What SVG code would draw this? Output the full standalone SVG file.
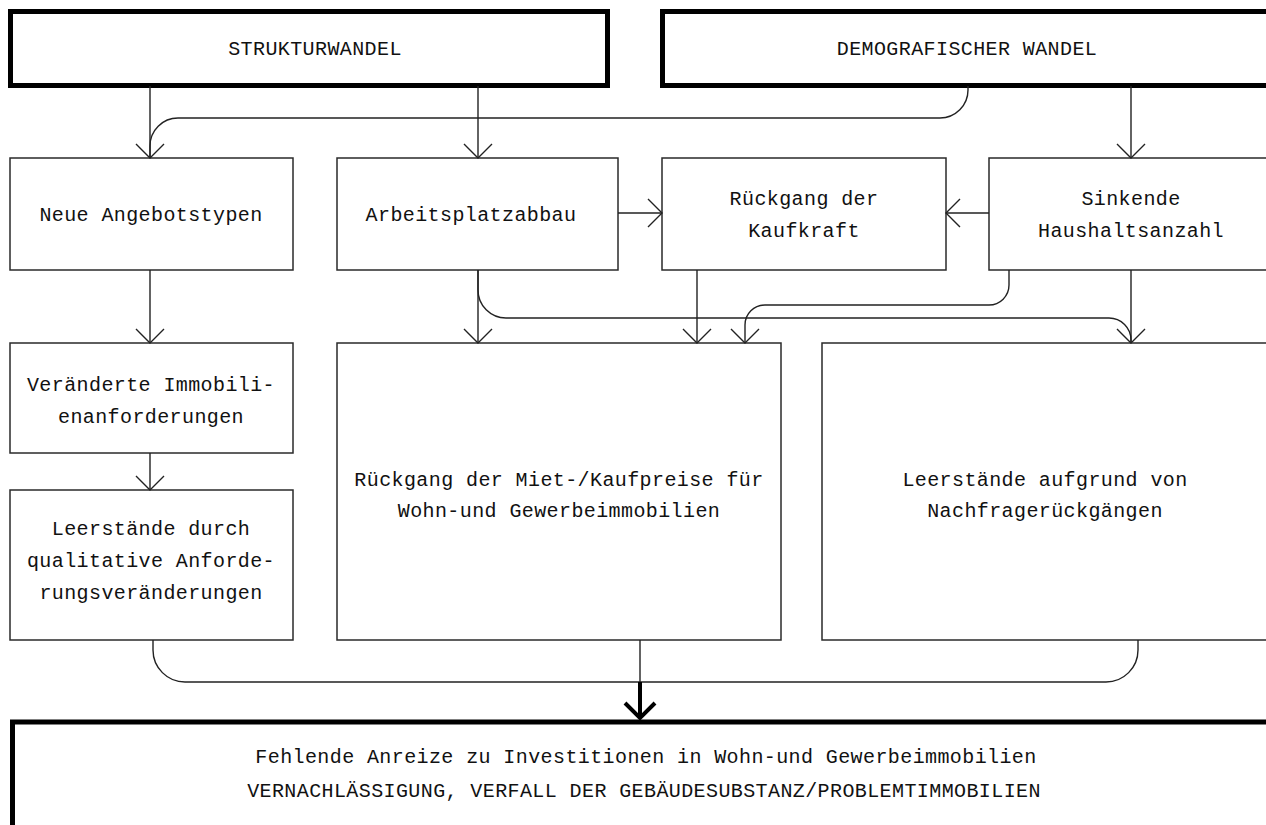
<svg xmlns="http://www.w3.org/2000/svg" width="1266" height="825" viewBox="0 0 1266 825">
  <style>
    .box { fill: #ffffff; stroke: #2a2a2a; stroke-width: 1.5; }
    .bold { fill: #ffffff; stroke: #000000; stroke-width: 5; }
    .lbl { font-family: "Liberation Mono", "DejaVu Sans Mono", monospace; font-size: 20px; letter-spacing: 0.4px; fill: #111111; text-anchor: middle; }
    .wire { fill: none; stroke: #222222; stroke-width: 1.4; }
    .heavy { fill: none; stroke: #000000; stroke-width: 4; }
  </style>
  <defs>
    <marker id="arrow" markerUnits="userSpaceOnUse" markerWidth="32" markerHeight="32" refX="0" refY="0" viewBox="-16 -16 32 32" orient="auto" overflow="visible">
      <path d="M-14,-14 L0,0 L-14,14" fill="none" stroke="#222222" stroke-width="1.4"/>
    </marker>
  </defs>

  <rect width="1266" height="825" fill="#ffffff"/>

  <!-- top level causes -->
  <g id="strukturwandel">
    <rect class="bold" x="10.5" y="11.5" width="597" height="74"/>
    <text class="lbl" x="315" y="55">STRUKTURWANDEL</text>
  </g>
  <g id="demografischer-wandel">
    <rect class="bold" x="662.5" y="11.5" width="640" height="74"/>
    <text class="lbl" x="967" y="55">DEMOGRAFISCHER WANDEL</text>
  </g>

  <!-- second row -->
  <g id="neue-angebotstypen">
    <rect class="box" x="10" y="158" width="283" height="112"/>
    <text class="lbl" x="151" y="221">Neue Angebotstypen</text>
  </g>
  <g id="arbeitsplatzabbau">
    <rect class="box" x="337" y="158" width="281" height="112"/>
    <text class="lbl" x="471" y="221">Arbeitsplatzabbau</text>
  </g>
  <g id="kaufkraft">
    <rect class="box" x="662" y="158" width="284" height="112"/>
    <text class="lbl" x="804" y="205">Rückgang der</text>
    <text class="lbl" x="804" y="237">Kaufkraft</text>
  </g>
  <g id="haushaltsanzahl">
    <rect class="box" x="989" y="158" width="300" height="112"/>
    <text class="lbl" x="1131" y="205">Sinkende</text>
    <text class="lbl" x="1131" y="237">Haushaltsanzahl</text>
  </g>

  <!-- third row -->
  <g id="immobilienanforderungen">
    <rect class="box" x="10" y="343" width="283" height="110"/>
    <text class="lbl" x="151" y="391">Veränderte Immobili-</text>
    <text class="lbl" x="151" y="423">enanforderungen</text>
  </g>
  <g id="leerstaende-qualitativ">
    <rect class="box" x="10" y="490" width="283" height="150"/>
    <text class="lbl" x="151" y="535">Leerstände durch</text>
    <text class="lbl" x="151" y="567">qualitative Anforde-</text>
    <text class="lbl" x="151" y="599">rungsveränderungen</text>
  </g>
  <g id="preisrueckgang">
    <rect class="box" x="337" y="343" width="444" height="297"/>
    <text class="lbl" x="559" y="486">Rückgang der Miet-/Kaufpreise für</text>
    <text class="lbl" x="559" y="517">Wohn-und Gewerbeimmobilien</text>
  </g>
  <g id="leerstaende-nachfrage">
    <rect class="box" x="822" y="343" width="460" height="297"/>
    <text class="lbl" x="1045" y="486">Leerstände aufgrund von</text>
    <text class="lbl" x="1045" y="517">Nachfragerückgängen</text>
  </g>

  <!-- outcome -->
  <g id="folgen">
    <rect class="bold" x="12.5" y="722" width="1290" height="200"/>
    <text class="lbl" x="646" y="763">Fehlende Anreize zu Investitionen in Wohn-und Gewerbeimmobilien</text>
    <text class="lbl" x="644" y="797">VERNACHLÄSSIGUNG, VERFALL DER GEBÄUDESUBSTANZ/PROBLEMTIMMOBILIEN</text>
  </g>

  <!-- connectors -->
  <g id="connectors">
    <path class="wire" d="M150,86 V158" marker-end="url(#arrow)"/>
    <path class="wire" d="M968,86 V90 A28,28 0 0 1 940,118 H178 A28,28 0 0 0 150,146 V158"/>
    <path class="wire" d="M478,86 V158" marker-end="url(#arrow)"/>
    <path class="wire" d="M1131,86 V158" marker-end="url(#arrow)"/>

    <path class="wire" d="M618,213 H662" marker-end="url(#arrow)"/>
    <path class="wire" d="M989,213 H946" marker-end="url(#arrow)"/>

    <path class="wire" d="M150,270 V343" marker-end="url(#arrow)"/>
    <path class="wire" d="M150,453 V490" marker-end="url(#arrow)"/>

    <path class="wire" d="M478,270 V343" marker-end="url(#arrow)"/>
    <path class="wire" d="M478,270 V290 A28,28 0 0 0 506,318 H1109 A22,22 0 0 1 1131,340 V343"/>
    <path class="wire" d="M697,270 V343" marker-end="url(#arrow)"/>
    <path class="wire" d="M1009,270 V285 A20,20 0 0 1 989,305 H765 A20,20 0 0 0 745,325 V343" marker-end="url(#arrow)"/>
    <path class="wire" d="M1131,270 V343" marker-end="url(#arrow)"/>

    <path class="wire" d="M153,640 V650 A32,32 0 0 0 185,682 H1106 A32,32 0 0 0 1138,650 V640"/>
    <path class="wire" d="M640,640 V682"/>
    <path class="heavy" d="M640,682 V718"/>
    <path class="heavy" d="M625,703 L640,718 L655,703"/>
  </g>
</svg>
